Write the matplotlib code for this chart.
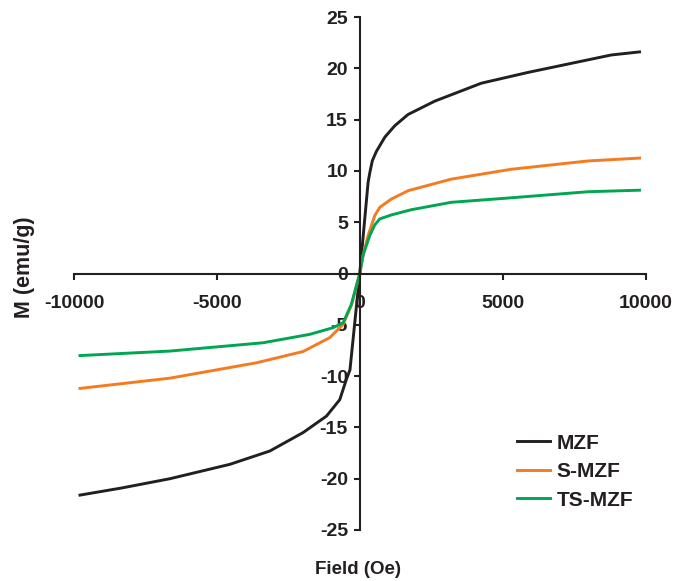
import matplotlib
matplotlib.use('Agg')
import matplotlib.pyplot as plt

# Hysteresis data (field in Oe, magnetisation in emu/g)
mzf_field = [-9790, -8320, -6640, -4545, -3145, -1980, -1165, -700, -466, -343, 0,
             292, 350, 440, 582, 880, 1224, 1690, 2624, 4254, 5886, 8800, 9790]
mzf_m = [-21.6, -20.9, -20.0, -18.6, -17.3, -15.5, -13.9, -12.3, -10.3, -9.4, 0,
         8.9, 9.8, 11.0, 11.9, 13.3, 14.4, 15.5, 16.8, 18.55, 19.6, 21.3, 21.6]

smzf_field = [-9790, -6640, -3610, -1980, -1050, -582, -294, 0,
              117, 292, 525, 700, 1107, 1690, 3205, 5303, 7984, 9790]
smzf_m = [-11.2, -10.2, -8.7, -7.6, -6.25, -4.96, -3.1, 0,
          1.8, 3.7, 5.65, 6.45, 7.26, 8.07, 9.2, 10.16, 10.97, 11.25]

tsmzf_field = [-9790, -6640, -3380, -1750, -932, -582, -294, 0,
               117, 350, 525, 700, 1107, 1806, 3205, 5071, 7984, 9790]
tsmzf_m = [-8.0, -7.56, -6.75, -5.93, -5.28, -4.8, -3.0, 0,
           1.8, 3.7, 4.74, 5.32, 5.71, 6.22, 6.94, 7.33, 7.97, 8.12]

labels = ['MZF', 'S-MZF', 'TS-MZF']
colors = ['#231f20', '#f47b20', '#00a651']

plt.rcParams['font.family'] = ['Liberation Sans', 'DejaVu Sans']
plt.rcParams['font.weight'] = 'bold'
plt.rcParams['axes.unicode_minus'] = False
ink = '#231f20'

fig = plt.figure(figsize=(6.89, 5.81), dpi=100)
ax = fig.add_axes([0.1074, 0.0878, 0.8295, 0.8829])

ax.plot(mzf_field, mzf_m, color=colors[0], lw=2.1, label=labels[0])
ax.plot(smzf_field, smzf_m, color=colors[1], lw=2.1, label=labels[1])
ax.plot(tsmzf_field, tsmzf_m, color=colors[2], lw=2.1, label=labels[2])

ax.set_xlim(-10000, 10000)
ax.set_ylim(-25, 25)
ax.set_xticks([-10000, -5000, 0, 5000, 10000])
ax.set_yticks(range(-25, 26, 5))

# axes cross at the origin
ax.spines['left'].set_position(('data', 0))
ax.spines['bottom'].set_position(('data', 0))
ax.spines['top'].set_visible(False)
ax.spines['right'].set_visible(False)
for s in ['left', 'bottom']:
    ax.spines[s].set_linewidth(1.5)
    ax.spines[s].set_color(ink)
ax.tick_params(direction='out', length=4.5, width=1.5, color=ink,
               labelsize=14, labelcolor=ink)
ax.tick_params(axis='x', pad=11)
ax.tick_params(axis='y', pad=4)
for t in ax.get_xticklabels() + ax.get_yticklabels():
    t.set_fontweight('bold')

fig.text(0.036, 0.54, 'M (emu/g)', rotation=90, ha='center', va='center',
         fontsize=15.5, fontweight='bold', color=ink)
fig.text(0.519, 0.019, 'Field (Oe)', ha='center', va='center',
         fontsize=13.5, fontweight='bold', color=ink)

leg = ax.legend(loc='upper left', bbox_to_anchor=(0.723, 0.286),
                bbox_transform=fig.transFigure, frameon=False,
                handlelength=1.6, labelspacing=0.46, handletextpad=0.3,
                prop={'size': 15, 'weight': 'bold'})
for t in leg.get_texts():
    t.set_color(ink)
for l in leg.get_lines():
    l.set_linewidth(2.1)

fig.savefig('out.png', dpi=100)
